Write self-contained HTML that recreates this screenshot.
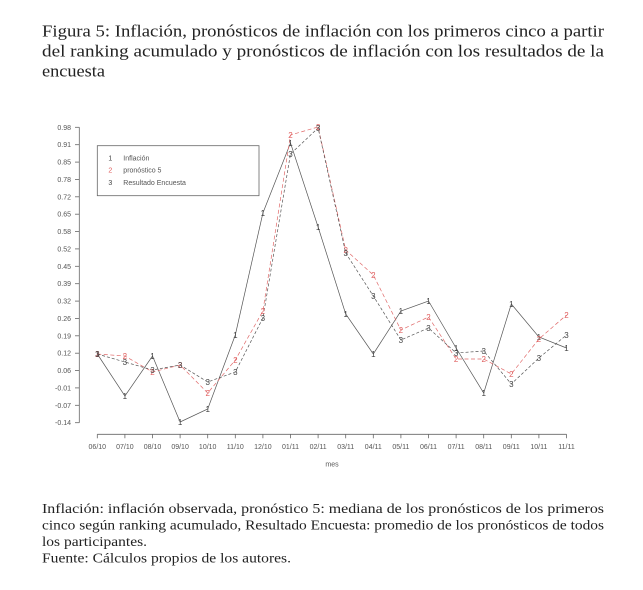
<!DOCTYPE html>
<html>
<head>
<meta charset="utf-8">
<style>
html,body{margin:0;padding:0;background:#fff;}
svg{display:block;}
.ser{font-family:"Liberation Serif",serif;fill:#222;}
.ax{font-family:"Liberation Sans",sans-serif;font-size:7px;fill:#555;}
.pt{font-family:"Liberation Sans",sans-serif;font-size:8px;}
</style>
</head>
<body>
<svg width="643" height="590" viewBox="0 0 643 590" xmlns="http://www.w3.org/2000/svg">
<rect width="643" height="590" fill="#fff"/>
<!-- Title -->
<text class="ser" x="42" y="36.7" font-size="16.5" textLength="562" lengthAdjust="spacingAndGlyphs">Figura 5: Inflación, pronósticos de inflación con los primeros cinco a partir</text>
<text class="ser" x="42" y="56.7" font-size="16.5" textLength="562" lengthAdjust="spacingAndGlyphs">del ranking acumulado y pronósticos de inflación con los resultados de la</text>
<text class="ser" x="42" y="76.7" font-size="16.5" textLength="63" lengthAdjust="spacingAndGlyphs">encuesta</text>

<!-- Axes -->
<g stroke="#666" stroke-width="0.8" fill="none">
<line x1="79.3" y1="127.3" x2="79.3" y2="422.7"/>
<line x1="97.3" y1="434.3" x2="566.5" y2="434.3"/>
<!-- y ticks -->
<line x1="75" y1="127.3" x2="79.3" y2="127.3"/>
<line x1="75" y1="144.7" x2="79.3" y2="144.7"/>
<line x1="75" y1="162.1" x2="79.3" y2="162.1"/>
<line x1="75" y1="179.4" x2="79.3" y2="179.4"/>
<line x1="75" y1="196.8" x2="79.3" y2="196.8"/>
<line x1="75" y1="214.2" x2="79.3" y2="214.2"/>
<line x1="75" y1="231.6" x2="79.3" y2="231.6"/>
<line x1="75" y1="248.9" x2="79.3" y2="248.9"/>
<line x1="75" y1="266.3" x2="79.3" y2="266.3"/>
<line x1="75" y1="283.7" x2="79.3" y2="283.7"/>
<line x1="75" y1="301.1" x2="79.3" y2="301.1"/>
<line x1="75" y1="318.4" x2="79.3" y2="318.4"/>
<line x1="75" y1="335.8" x2="79.3" y2="335.8"/>
<line x1="75" y1="353.2" x2="79.3" y2="353.2"/>
<line x1="75" y1="370.6" x2="79.3" y2="370.6"/>
<line x1="75" y1="387.9" x2="79.3" y2="387.9"/>
<line x1="75" y1="405.3" x2="79.3" y2="405.3"/>
<line x1="75" y1="422.7" x2="79.3" y2="422.7"/>
<!-- x ticks -->
<line x1="97.3" y1="434.3" x2="97.3" y2="438.3"/>
<line x1="124.9" y1="434.3" x2="124.9" y2="438.3"/>
<line x1="152.5" y1="434.3" x2="152.5" y2="438.3"/>
<line x1="180.1" y1="434.3" x2="180.1" y2="438.3"/>
<line x1="207.7" y1="434.3" x2="207.7" y2="438.3"/>
<line x1="235.3" y1="434.3" x2="235.3" y2="438.3"/>
<line x1="262.9" y1="434.3" x2="262.9" y2="438.3"/>
<line x1="290.5" y1="434.3" x2="290.5" y2="438.3"/>
<line x1="318.1" y1="434.3" x2="318.1" y2="438.3"/>
<line x1="345.7" y1="434.3" x2="345.7" y2="438.3"/>
<line x1="373.3" y1="434.3" x2="373.3" y2="438.3"/>
<line x1="400.9" y1="434.3" x2="400.9" y2="438.3"/>
<line x1="428.5" y1="434.3" x2="428.5" y2="438.3"/>
<line x1="456.1" y1="434.3" x2="456.1" y2="438.3"/>
<line x1="483.7" y1="434.3" x2="483.7" y2="438.3"/>
<line x1="511.3" y1="434.3" x2="511.3" y2="438.3"/>
<line x1="538.9" y1="434.3" x2="538.9" y2="438.3"/>
<line x1="566.5" y1="434.3" x2="566.5" y2="438.3"/>
</g>
<g class="ax" text-anchor="end">
<text x="71" y="129.8">0.98</text>
<text x="71" y="147.2">0.91</text>
<text x="71" y="164.6">0.85</text>
<text x="71" y="181.9">0.78</text>
<text x="71" y="199.3">0.72</text>
<text x="71" y="216.7">0.65</text>
<text x="71" y="234.1">0.58</text>
<text x="71" y="251.4">0.52</text>
<text x="71" y="268.8">0.45</text>
<text x="71" y="286.2">0.39</text>
<text x="71" y="303.6">0.32</text>
<text x="71" y="320.9">0.26</text>
<text x="71" y="338.3">0.19</text>
<text x="71" y="355.7">0.12</text>
<text x="71" y="373.1">0.06</text>
<text x="71" y="390.4">-0.01</text>
<text x="71" y="407.8">-0.07</text>
<text x="71" y="425.2">-0.14</text>
</g>
<g class="ax" text-anchor="middle">
<text x="97.3" y="449">06/10</text>
<text x="124.9" y="449">07/10</text>
<text x="152.5" y="449">08/10</text>
<text x="180.1" y="449">09/10</text>
<text x="207.7" y="449">10/10</text>
<text x="235.3" y="449">11/10</text>
<text x="262.9" y="449">12/10</text>
<text x="290.5" y="449">01/11</text>
<text x="318.1" y="449">02/11</text>
<text x="345.7" y="449">03/11</text>
<text x="373.3" y="449">04/11</text>
<text x="400.9" y="449">05/11</text>
<text x="428.5" y="449">06/11</text>
<text x="456.1" y="449">07/11</text>
<text x="483.7" y="449">08/11</text>
<text x="511.3" y="449">09/11</text>
<text x="538.9" y="449">10/11</text>
<text x="566.5" y="449">11/11</text>
</g>
<text class="ax" x="332" y="466.5" text-anchor="middle">mes</text>

<!-- Legend -->
<rect x="97.3" y="145.7" width="161.7" height="50" fill="none" stroke="#666" stroke-width="0.8"/>
<g class="ax">
<text x="110.3" y="160.5" text-anchor="middle" fill="#444">1</text>
<text x="123.3" y="160.5">Inflación</text>
<text x="110.3" y="172.5" text-anchor="middle" fill="#e06060">2</text>
<text x="123.3" y="172.5">pronóstico 5</text>
<text x="110.3" y="185" text-anchor="middle" fill="#444">3</text>
<text x="123.3" y="185">Resultado Encuesta</text>
</g>

<!-- Series -->
<polyline fill="none" stroke="#555" stroke-width="0.7" points="97.3,354 124.9,396 152.5,356 180.1,422 207.7,409 235.3,335 262.9,213 290.5,143 318.1,227 345.7,314 373.3,354 400.9,311 428.5,301 456.1,348 483.7,393 511.3,304 538.9,337 566.5,348"/>
<polyline fill="none" stroke="#e06a6a" stroke-width="0.7" stroke-dasharray="4,2.5" points="97.3,354 124.9,356 152.5,372 180.1,365 207.7,393 235.3,360 262.9,311 290.5,135 318.1,127 345.7,250 373.3,275 400.9,330 428.5,317 456.1,359 483.7,359 511.3,374 538.9,339 566.5,315"/>
<polyline fill="none" stroke="#555" stroke-width="0.7" stroke-dasharray="3,2" points="97.3,354 124.9,362 152.5,370 180.1,365 207.7,382 235.3,372 262.9,318 290.5,154 318.1,128 345.7,253 373.3,296 400.9,340 428.5,328 456.1,353 483.7,351 511.3,384 538.9,358 566.5,335"/>

<g class="pt" text-anchor="middle" fill="#444">
<text x="97.3" y="357">1</text>
<text x="124.9" y="399">1</text>
<text x="152.5" y="359">1</text>
<text x="180.1" y="425">1</text>
<text x="207.7" y="412">1</text>
<text x="235.3" y="338">1</text>
<text x="262.9" y="216">1</text>
<text x="290.5" y="146">1</text>
<text x="318.1" y="230">1</text>
<text x="345.7" y="317">1</text>
<text x="373.3" y="357">1</text>
<text x="400.9" y="314">1</text>
<text x="428.5" y="304">1</text>
<text x="456.1" y="351">1</text>
<text x="483.7" y="396">1</text>
<text x="511.3" y="307">1</text>
<text x="538.9" y="340">1</text>
<text x="566.5" y="351">1</text>
</g>
<g class="pt" text-anchor="middle" fill="#e06060">
<text x="97.3" y="357">2</text>
<text x="124.9" y="359">2</text>
<text x="152.5" y="375">2</text>
<text x="180.1" y="368">2</text>
<text x="207.7" y="396">2</text>
<text x="235.3" y="363">2</text>
<text x="262.9" y="314">2</text>
<text x="290.5" y="138">2</text>
<text x="318.1" y="130">2</text>
<text x="345.7" y="253">2</text>
<text x="373.3" y="278">2</text>
<text x="400.9" y="333">2</text>
<text x="428.5" y="320">2</text>
<text x="456.1" y="362">2</text>
<text x="483.7" y="362">2</text>
<text x="511.3" y="377">2</text>
<text x="538.9" y="342">2</text>
<text x="566.5" y="318">2</text>
</g>
<g class="pt" text-anchor="middle" fill="#444">
<text x="97.3" y="357">3</text>
<text x="124.9" y="365">3</text>
<text x="152.5" y="373">3</text>
<text x="180.1" y="368">3</text>
<text x="207.7" y="385">3</text>
<text x="235.3" y="375">3</text>
<text x="262.9" y="321">3</text>
<text x="290.5" y="157">3</text>
<text x="318.1" y="131">3</text>
<text x="345.7" y="256">3</text>
<text x="373.3" y="299">3</text>
<text x="400.9" y="343">3</text>
<text x="428.5" y="331">3</text>
<text x="456.1" y="356">3</text>
<text x="483.7" y="354">3</text>
<text x="511.3" y="387">3</text>
<text x="538.9" y="361">3</text>
<text x="566.5" y="338">3</text>
</g>

<!-- Notes -->
<text class="ser" x="42" y="513" font-size="13.8" textLength="562" lengthAdjust="spacingAndGlyphs">Inflación: inflación observada, pronóstico 5: mediana de los pronósticos de los primeros</text>
<text class="ser" x="42" y="529.5" font-size="13.8" textLength="562" lengthAdjust="spacingAndGlyphs">cinco según ranking acumulado, Resultado Encuesta: promedio de los pronósticos de todos</text>
<text class="ser" x="42" y="546" font-size="13.8" textLength="105" lengthAdjust="spacingAndGlyphs">los participantes.</text>
<text class="ser" x="42" y="562.5" font-size="13.8" textLength="249" lengthAdjust="spacingAndGlyphs">Fuente: Cálculos propios de los autores.</text>
</svg>
</body>
</html>
